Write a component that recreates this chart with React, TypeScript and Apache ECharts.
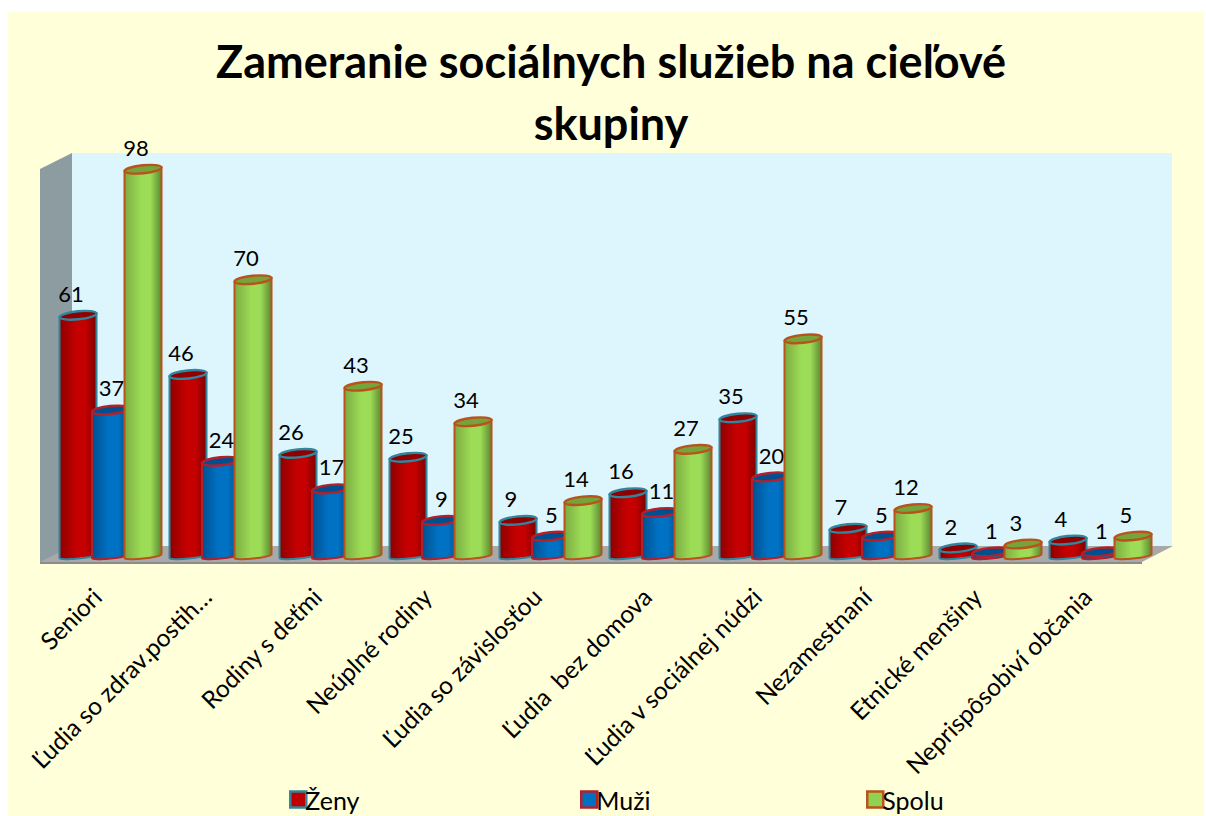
import React, { useEffect, useRef } from "react";
import * as echarts from "echarts";

const titleText = "Zameranie sociálnych služieb na cieľové\nskupiny";
const categories = [
  "Seniori",
  "Ľudia so zdrav.postih…",
  "Rodiny s deťmi",
  "Neúplné rodiny",
  "Ľudia so závislosťou",
  "Ľudia  bez domova",
  "Ľudia v sociálnej núdzi",
  "Nezamestnaní",
  "Etnické menšiny",
  "Neprispôsobiví občania",
];
const zeny = [61, 46, 26, 25, 9, 16, 35, 7, 2, 4];
const muzi = [37, 24, 17, 9, 5, 11, 20, 5, 1, 1];
const spolu = [98, 70, 43, 34, 14, 27, 55, 12, 3, 5];

const FONT = "Lato";

type Look = {
  offset: number;
  labelDx: number;
  edgeL: string;
  mid: string;
  edgeR: string;
  top: string;
  border: string;
  swatch: string;
};

const looks: Record<string, Look> = {
  Ženy: { offset: -33, labelDx: -7, edgeL: "#8c0000", mid: "#c40000", edgeR: "#7d0000", top: "#8f0000", border: "#31859c", swatch: "#c00000" },
  Muži: { offset: -0.5, labelDx: 1, edgeL: "#00508f", mid: "#0072c4", edgeR: "#004a85", top: "#00508f", border: "#b3202c", swatch: "#0070c0" },
  Spolu: { offset: 32, labelDx: -7, edgeL: "#7dab42", mid: "#9cdc56", edgeR: "#5c8733", top: "#76a33a", border: "#b9521b", swatch: "#92d050" },
};

const RX = 18.5;
const RY = 4;
const RY_BOTTOM = 2.6;
const TILT = 0.1;

function cylinder(look: Look) {
  return (_params: any, api: any) => {
    const idx = api.value(0);
    const val = api.value(1);
    const [bx, baseY] = api.coord([idx, 0]);
    const [, topY] = api.coord([idx, val]);
    const cx = bx + look.offset;
    const slope = Math.tan(TILT);
    const pts: number[][] = [];
    for (let i = 0; i <= 24; i++) {
      const t = (Math.PI * i) / 24;
      const dx = RX * Math.cos(t);
      pts.push([cx + dx, baseY + RY_BOTTOM * Math.sin(t) - slope * dx]);
    }
    pts.push([cx - RX, topY + slope * RX]);
    pts.push([cx + RX, topY - slope * RX]);
    return {
      type: "group",
      children: [
        {
          type: "polygon",
          shape: { points: pts },
          style: {
            fill: new echarts.graphic.LinearGradient(0, 0, 1, 0, [
              { offset: 0, color: look.edgeL },
              { offset: 0.45, color: look.mid },
              { offset: 0.7, color: look.mid },
              { offset: 1, color: look.edgeR },
            ]),
            stroke: look.border,
            lineWidth: 2,
          },
        },
        {
          type: "ellipse",
          shape: { cx, cy: topY, rx: RX, ry: RY },
          rotation: TILT,
          originX: cx,
          originY: topY,
          style: { fill: look.top, stroke: look.border, lineWidth: 2.4 },
        },
        {
          type: "text",
          style: {
            x: cx + look.labelDx,
            y: topY - 22,
            text: String(val),
            fill: "#000",
            font: `22px ${FONT}`,
            align: "center",
            verticalAlign: "middle",
          },
        },
      ],
    };
  };
}

function makeSeries(name: string, values: number[]) {
  return {
    name,
    type: "custom",
    renderItem: cylinder(looks[name]),
    encode: { x: 0, y: 1 },
    clip: false,
    data: values.map((v, i) => [i, v]),
    itemStyle: { color: looks[name].mid },
  };
}

function makeLegend(name: string, left: number) {
  const look = looks[name];
  return {
    left,
    top: 782,
    itemWidth: 16,
    itemHeight: 16,
    itemGap: 0,
    textStyle: { fontFamily: FONT, fontSize: 25, color: "#000", padding: [0, 0, 4, -6] },
    data: [
      {
        name,
        icon: "rect",
        itemStyle: { color: look.swatch, borderColor: look.border, borderWidth: 2.5 },
      },
    ],
  };
}

export default function App() {
  const ref = useRef<HTMLDivElement>(null);
  useEffect(() => {
    const chart = echarts.init(ref.current!, null, { renderer: "svg" });
    chart.setOption({
      animation: false,
      backgroundColor: "#ffffff",
      title: {
        text: titleText,
        left: 606,
        top: 25,
        textAlign: "center",
        textStyle: { fontFamily: FONT, fontSize: 45, fontWeight: "bold", color: "#000", lineHeight: 62 },
      },
      legend: [makeLegend("Ženy", 284), makeLegend("Muži", 575), makeLegend("Spolu", 861)],
      grid: { left: 56, width: 1100, top: 161.4, height: 394.6 },
      xAxis: {
        type: "category",
        data: categories,
        axisLine: { show: false },
        axisTick: { show: false },
        axisLabel: {
          interval: 0,
          rotate: 45,
          margin: 22,
          padding: [0, 20, 16, 0],
          fontFamily: FONT,
          fontSize: 24.5,
          color: "#000",
        },
      },
      yAxis: { type: "value", min: 0, max: 100, show: false, splitLine: { show: false } },
      graphic: [
        { type: "rect", shape: { x: 8, y: 12, width: 1196, height: 804 }, style: { fill: "#ffffd9" }, z: -10 },
        { type: "rect", shape: { x: 72, y: 153, width: 1100, height: 393 }, style: { fill: "#ddf5fd" }, z: -9 },
        { type: "polygon", shape: { points: [[40, 169], [72, 153], [72, 546], [40, 563]] }, style: { fill: "#8c9ca1" }, z: -8 },
        { type: "polygon", shape: { points: [[40, 562], [72, 546], [1173, 546], [1142, 562]] }, style: { fill: "#a9a9a9" }, z: -8 },
        { type: "rect", shape: { x: 40, y: 562, width: 1102, height: 2 }, style: { fill: "#8c8c8c" }, z: -8 },
      ],
      series: [makeSeries("Ženy", zeny), makeSeries("Muži", muzi), makeSeries("Spolu", spolu)],
    });
    return () => chart.dispose();
  }, []);
  return <div ref={ref} style={{ position: "fixed", left: 0, top: 0, width: 1206, height: 816 }} />;
}
